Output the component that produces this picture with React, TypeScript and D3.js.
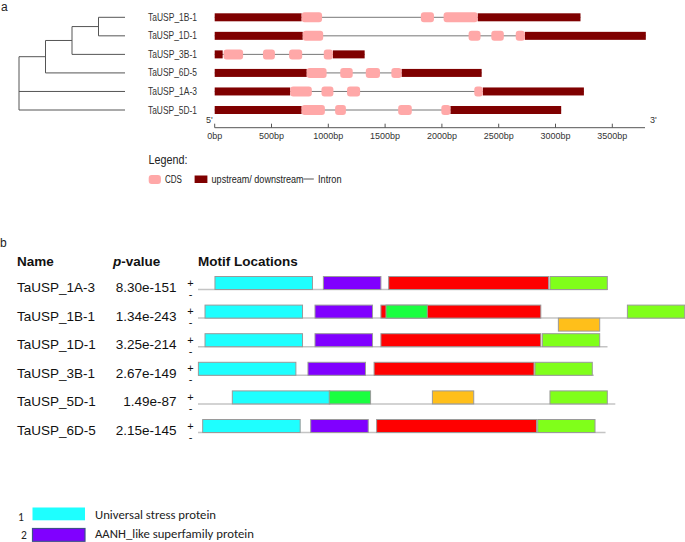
import React from "react";
import * as d3 from "d3";

// ---------- Panel a data ----------
const geneNames = ["TaUSP_1B-1", "TaUSP_1D-1", "TaUSP_3B-1", "TaUSP_6D-5", "TaUSP_1A-3", "TaUSP_5D-1"];
const geneLengths = [3220, 3795, 1320, 2350, 3250, 3050];
const upstreamRegions = [[0, 765], [0, 775], [0, 70], [0, 810], [0, 665], [0, 765]];
const downstreamRegions = [[2315, 3220], [2730, 3795], [1040, 1320], [1645, 2350], [2360, 3250], [2075, 3050]];
const cdsRegions = [
  [[765, 945], [1815, 1930], [2015, 2315]],
  [[775, 955], [2235, 2340], [2435, 2545], [2650, 2730]],
  [[78, 250], [425, 530], [655, 770], [960, 1040]],
  [[810, 985], [1105, 1215], [1330, 1455], [1555, 1645]],
  [[665, 855], [940, 1045], [1165, 1280], [2285, 2360]],
  [[765, 970], [1060, 1155], [1615, 1735], [1995, 2075]],
];
const bpTicks = [0, 500, 1000, 1500, 2000, 2500, 3000, 3500];
const treeData = {
  name: "root",
  children: [
    {
      name: "n1",
      children: [
        { name: "n2", children: [{ name: "n3", children: [{ name: "TaUSP_1B-1" }, { name: "TaUSP_1D-1" }] }, { name: "TaUSP_3B-1" }] },
        { name: "TaUSP_6D-5" },
      ],
    },
    { name: "TaUSP_1A-3" },
    { name: "TaUSP_5D-1" },
  ],
};

// ---------- Panel b data ----------
const motifGenes = ["TaUSP_1A-3", "TaUSP_1B-1", "TaUSP_1D-1", "TaUSP_3B-1", "TaUSP_5D-1", "TaUSP_6D-5"];
const pValues = ["8.30e-151", "1.34e-243", "3.25e-214", "2.67e-149", "1.49e-87", "2.15e-145"];
const seqLengths = [210, 250, 210, 203, 214, 209];
const motifIds = [1, 2, 3, 4, 5, 6];
const motifWidths = [50, 29.5, 82, 29.4, 21.2, 21.2];
const motifColors = ["#1effff", "#8000ff", "#ff0000", "#80ff1a", "#1aff40", "#ffbf1a"];
// [motif id, start, strand]
const motifSites = [
  [[1, 8.7, "+"], [2, 64.3, "+"], [3, 97.8, "+"], [4, 180.5, "+"]],
  [[1, 3.6, "+"], [2, 60, "+"], [3, 93.8, "+"], [5, 96.4, "+"], [6, 184.8, "-"], [4, 220.2, "+"]],
  [[1, 3.6, "+"], [2, 60, "+"], [3, 93.8, "+"], [4, 176.6, "+"]],
  [[1, 0.2, "+"], [2, 56.4, "+"], [3, 90.3, "+"], [4, 172.8, "+"]],
  [[1, 17.6, "+"], [5, 67.3, "+"], [6, 120.2, "+"], [4, 180.5, "+"]],
  [[1, 2.4, "+"], [2, 57.8, "+"], [3, 91.6, "+"], [4, 174.2, "+"]],
];
const legendLabels = ["Universal stress protein", "AANH_like superfamily protein"];

export default function App() {
  // ---- panel a scales ----
  const xBp = d3.scaleLinear().domain([0, 3500]).range([214.7, 612.3]);
  const yRow = d3.scaleLinear().domain([0, 5]).range([17.3, 110]);
  const tx = d3.scaleLinear().domain([4, 0]).range([19, 125]);

  const root = d3.hierarchy(treeData);
  root.eachAfter((n: any) => {
    if (!n.children) n.py = yRow(geneNames.indexOf(n.data.name));
    else n.py = d3.mean(n.children, (c: any) => c.py);
  });
  const treeLines: any[] = [];
  root.each((n: any) => {
    n.px = tx(n.height);
  });
  root.each((n: any) => {
    if (n.children) {
      const ys = n.children.map((c: any) => c.py);
      treeLines.push([n.px, d3.min(ys), n.px, d3.max(ys)]);
      n.children.forEach((c: any) => {
        const cx = c.children ? c.px : tx(0);
        treeLines.push([n.px, c.py, cx, c.py]);
      });
    }
  });

  // ---- panel b scales ----
  const xAa = d3.scaleLinear().domain([0, 100]).range([198, 393]);
  const yBase = d3.scaleLinear().domain([0, 5]).range([289.5, 432.5]);
  const boxH = 13;
  const color = d3.scaleOrdinal<number, string>().domain(motifIds).range(motifColors);
  const widthOf = d3.scaleOrdinal<number, number>().domain(motifIds).range(motifWidths);

  const smallFont = "'Liberation Sans', Arial, sans-serif";

  return (
    <svg width={685} height={542} style={{ position: "absolute", left: 0, top: 0, background: "#fff" }}>
      {/* panel labels */}
      <text x={1} y={11} fontFamily={smallFont} fontSize={12} fill="#222">a</text>
      <text x={0} y={247} fontFamily={smallFont} fontSize={12} fill="#222">b</text>

      {/* tree */}
      <g stroke="#555" strokeWidth={1}>
        {treeLines.map((l, i) => (
          <line key={i} x1={l[0]} y1={l[1]} x2={l[2]} y2={l[3]} />
        ))}
      </g>

      {/* gene structures */}
      {geneNames.map((g, i) => {
        const y = yRow(i);
        return (
          <g key={g}>
            <text x={148} y={y + 3.5} fontFamily={smallFont} fontSize={10.5} fill="#333" textLength={49} lengthAdjust="spacingAndGlyphs">{g}</text>
            <line x1={xBp(0)} x2={xBp(geneLengths[i])} y1={y} y2={y} stroke="#777" strokeWidth={1} />
            <rect x={xBp(upstreamRegions[i][0])} width={xBp(upstreamRegions[i][1]) - xBp(upstreamRegions[i][0])} y={y - 4} height={8} fill="#7f0000" />
            <rect x={xBp(downstreamRegions[i][0])} width={xBp(downstreamRegions[i][1]) - xBp(downstreamRegions[i][0])} y={y - 4} height={8} fill="#7f0000" />
            {cdsRegions[i].map((c, j) => (
              <rect key={j} x={xBp(c[0])} width={xBp(c[1]) - xBp(c[0])} y={y - 5} height={10} rx={3} fill="#ffa8a8" />
            ))}
          </g>
        );
      })}

      {/* bp axis */}
      <g fontFamily={smallFont} fontSize={9} fill="#333">
        <line x1={xBp(0)} x2={645} y1={127.7} y2={127.7} stroke="#555" />
        {bpTicks.map((t) => (
          <g key={t}>
            <line x1={xBp(t)} x2={xBp(t)} y1={123.7} y2={127.7} stroke="#555" />
            <text x={xBp(t)} y={139} textAnchor="middle" textLength={String(t).length * 5 + 10} lengthAdjust="spacingAndGlyphs">{t + "bp"}</text>
          </g>
        ))}
        <text x={206} y={123} fontSize={9}>5'</text>
        <text x={650} y={123} fontSize={9}>3'</text>
      </g>

      {/* gene legend */}
      <g fontFamily={smallFont} fill="#222">
        <text x={148.5} y={164} fontSize={12} textLength={39} lengthAdjust="spacingAndGlyphs">Legend:</text>
        <rect x={148.7} y={175} width={12.2} height={9} rx={3} fill="#ffa8a8" />
        <text x={165} y={183} fontSize={10} textLength={17} lengthAdjust="spacingAndGlyphs">CDS</text>
        <rect x={194.6} y={175.5} width={12.8} height={7.5} fill="#7f0000" />
        <text x={211.6} y={183} fontSize={10} textLength={92} lengthAdjust="spacingAndGlyphs">upstream/ downstream</text>
        <line x1={303.4} x2={313.8} y1={179} y2={179} stroke="#555" />
        <text x={318} y={183} fontSize={10} textLength={23.6} lengthAdjust="spacingAndGlyphs">Intron</text>
      </g>

      {/* panel b headers */}
      <g fontFamily={smallFont} fontWeight="bold" fontSize={13.5} fill="#111">
        <text x={17} y={266}>Name</text>
        <text x={113} y={266}>
          <tspan fontStyle="italic">p</tspan>-value
        </text>
        <text x={198} y={266}>Motif Locations</text>
      </g>

      {motifGenes.map((g, i) => {
        const yb = yBase(i);
        return (
          <g key={g}>
            <text x={17} y={yb + 2.5} fontFamily={smallFont} fontSize={13.5} fill="#111">{g}</text>
            <text x={176.5} y={yb + 2.5} textAnchor="end" fontFamily={smallFont} fontSize={13.5} fill="#111">{pValues[i]}</text>
            <text x={190.5} y={yb - 3} textAnchor="middle" fontFamily={smallFont} fontSize={11} fill="#111">+</text>
            <text x={190.5} y={yb + 8} textAnchor="middle" fontFamily={smallFont} fontSize={11} fill="#111">-</text>
            <line x1={xAa(0)} x2={xAa(seqLengths[i])} y1={yb} y2={yb} stroke="#c4c4c4" strokeWidth={1.5} />
            {motifSites[i].map((m: any, j) => {
              const id = m[0] as number;
              const x0 = xAa(m[1]);
              const w = xAa(m[1] + widthOf(id)) - x0;
              return (
                <rect key={j} x={x0} width={w} y={m[2] === "+" ? yb - boxH : yb} height={boxH} fill={color(id)} stroke="#9a9a9a" strokeWidth={1} />
              );
            })}
          </g>
        );
      })}

      {/* bottom legend */}
      <g fontFamily="Carlito, 'Liberation Sans', Arial, sans-serif" fontSize={11.5} fill="#222">
        {legendLabels.map((lab, i) => (
          <g key={lab}>
            <text x={i === 0 ? 18 : 21} y={521 + i * 18} fontSize={11.5}>{i + 1}</text>
            <rect x={32.5} y={507.5 + i * 21} width={52.5} height={12.8} fill={color(motifIds[i])} stroke={i === 1 ? "#3f4f8a" : "none"} strokeWidth={1.2} />
            <text x={95} y={519 + i * 19} textLength={i === 0 ? 121 : 159} lengthAdjust="spacingAndGlyphs">{lab}</text>
          </g>
        ))}
      </g>
    </svg>
  );
}
